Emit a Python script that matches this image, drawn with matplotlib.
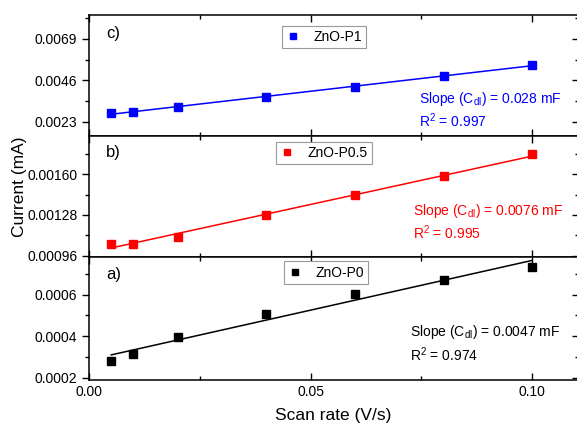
import numpy as np
import matplotlib
matplotlib.use("Agg")
import matplotlib.pyplot as plt
from matplotlib.ticker import FixedLocator, AutoMinorLocator, FormatStrFormatter, NullFormatter

plt.rcParams['font.family'] = ['Liberation Sans', 'DejaVu Sans']
plt.rcParams['mathtext.fontset'] = 'custom'
plt.rcParams['mathtext.rm'] = 'Liberation Sans'
plt.rcParams['mathtext.it'] = 'Liberation Sans'

# scan rates (V/s)
scan_rate = [0.005, 0.01, 0.02, 0.04, 0.06, 0.08, 0.10]

# current (mA)
current_p1 = [0.00280, 0.00285, 0.00313, 0.00369, 0.00424, 0.00485, 0.00546]
current_p05 = [0.001054, 0.001056, 0.001108, 0.00128, 0.001436, 0.001584, 0.001756]
current_p0 = [0.000282, 0.000316, 0.000398, 0.000508, 0.000605, 0.000672, 0.00073]

labels = ['ZnO-P1', 'ZnO-P0.5', 'ZnO-P0']
colors = ['#0000ff', '#ff0000', '#000000']
panel_names = ['c)', 'b)', 'a)']
slopes = ['0.028', '0.0076', '0.0047']
r2 = ['0.997', '0.995', '0.974']

yticks = [[0.0023, 0.0046, 0.0069], [0.00096, 0.00128, 0.00160], [0.0002, 0.0004, 0.0006]]
ylims = [(0.00152, 0.00823), (0.00095, 0.0019), (0.00019, 0.00078)]
yfmt = ['%.4f', '%.5f', '%.4f']

series = [current_p1, current_p05, current_p0]

# positions (axes fraction)
leg_pos = [(0.48, 0.818), (0.48, 0.86), (0.484, 0.874)]
txt_pos = [(0.674, 0.306, 0.124), (0.662, 0.38, 0.198), (0.656, 0.39, 0.21)]
lab_pos = [0.85, 0.86, 0.854]

fig = plt.figure(figsize=(5.77, 4.28), dpi=100)
gs = fig.add_gridspec(3, 1, left=0.1545, right=1.003, top=0.965, bottom=0.112,
                      hspace=0, height_ratios=[121, 121, 123])

x = np.array(scan_rate)
for i in range(3):
    ax = fig.add_subplot(gs[i])
    y = np.array(series[i])
    k, b = np.polyfit(x, y, 1)
    ax.plot(x, k * x + b, color=colors[i], lw=1.1, zorder=2)
    ax.plot(x, y, 's', color=colors[i], ms=6, label=labels[i], zorder=3)

    ax.set_xlim(0, 0.1105)
    ax.set_ylim(*ylims[i])
    ax.xaxis.set_major_locator(FixedLocator([0.0, 0.05, 0.10]))
    ax.xaxis.set_minor_locator(AutoMinorLocator(2))
    ax.yaxis.set_major_locator(FixedLocator(yticks[i]))
    ax.yaxis.set_minor_locator(AutoMinorLocator(2))
    ax.yaxis.set_major_formatter(FormatStrFormatter(yfmt[i]))
    ax.xaxis.set_major_formatter(FormatStrFormatter('%.2f'))

    ax.tick_params(axis='y', which='both', left=True, right=False, direction='out',
                   labelsize=10, width=1.0)
    ax.tick_params(axis='y', which='major', length=5)
    ax.tick_params(axis='y', which='minor', length=3)
    ax.tick_params(axis='x', which='both', top=True, bottom=True, direction='in',
                   labelsize=10, width=1.0)
    ax.tick_params(axis='x', which='major', length=5)
    ax.tick_params(axis='x', which='minor', length=3)
    if i < 2:
        ax.tick_params(axis='x', labelbottom=False)
    for s in ax.spines.values():
        s.set_linewidth(1.1)

    # right side ticks point inward
    sec = ax.secondary_yaxis('right')
    sec.yaxis.set_major_locator(FixedLocator(yticks[i]))
    sec.yaxis.set_minor_locator(AutoMinorLocator(2))
    sec.yaxis.set_major_formatter(NullFormatter())
    sec.tick_params(which='both', direction='in', width=1.0)
    sec.tick_params(which='major', length=5)
    sec.tick_params(which='minor', length=3)
    sec.spines['right'].set_linewidth(1.1)

    leg = ax.legend(loc='center', bbox_to_anchor=leg_pos[i], fontsize=10,
                    frameon=True, fancybox=False, edgecolor='#999999',
                    framealpha=1, handlelength=1.0, handletextpad=1.0,
                    borderpad=0.3, markerscale=0.8, numpoints=1)
    leg.get_frame().set_linewidth(0.8)

    ax.text(0.035, lab_pos[i], panel_names[i], transform=ax.transAxes,
            fontsize=12, ha='left', va='center')
    tx, ty1, ty2 = txt_pos[i]
    ax.text(tx, ty1, 'Slope (C$_{\\rm dl}$) = ' + slopes[i] + ' mF', color=colors[i],
            transform=ax.transAxes, fontsize=10, ha='left', va='center')
    ax.text(tx, ty2, 'R$^{2}$ = ' + r2[i], color=colors[i],
            transform=ax.transAxes, fontsize=10, ha='left', va='center')

fig.text(0.033, 0.563, 'Current (mA)', rotation=90, fontsize=12.5,
         ha='center', va='center')
fig.text(0.577, 0.03, 'Scan rate (V/s)', fontsize=12.5, ha='center', va='center')

fig.savefig('out.png', dpi=100)
